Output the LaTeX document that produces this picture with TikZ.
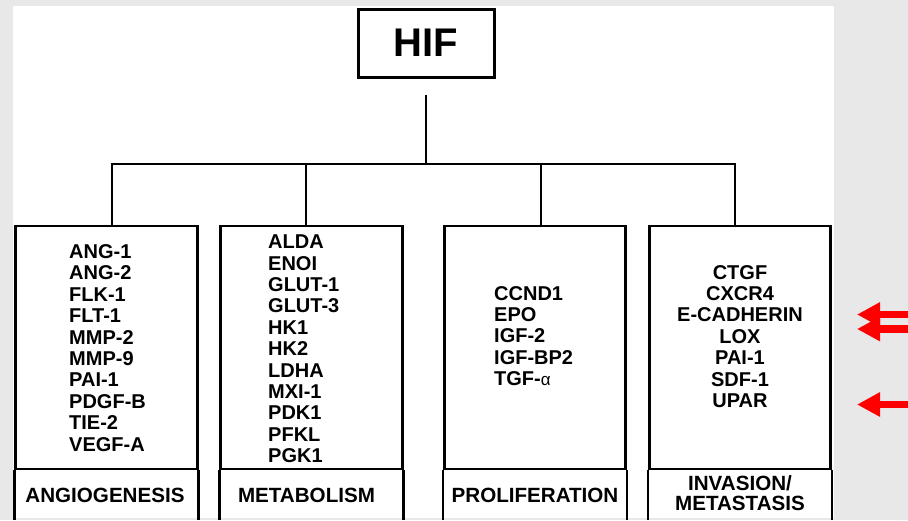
\documentclass[tikz,border=0pt]{standalone}
\usepackage{fontspec}
\setmainfont{Liberation Sans}
\newfontfamily\greekfont{Liberation Sans}
\usetikzlibrary{arrows.meta}
\definecolor{bggray}{HTML}{E8E8E8}
\definecolor{arrowred}{HTML}{FF0000}
\begin{document}
\begin{tikzpicture}[x=1pt,y=-1pt,
  catbox/.style={draw, line width=2.6pt, minimum width=181.5pt, minimum height=243pt, inner sep=0pt},
  sideline/.style={line width=2.6pt},
  conn/.style={line width=2.2pt, line join=miter},
  genes/.style={inner sep=0pt, align=left, anchor=west, font=\fontsize{20}{21.4}\selectfont\bfseries},
  genesc/.style={inner sep=0pt, align=center, font=\fontsize{20}{21.4}\selectfont\bfseries},
  catlabel/.style={inner sep=0pt, align=center, font=\fontsize{20.6}{20.5}\selectfont\bfseries},
  redarrow/.style={draw=arrowred, line width=7.5pt, -{Triangle[length=23pt,width=23pt]}}]
\useasboundingbox (0,0) rectangle (908,520);
\fill[bggray] (0,0) rectangle (908,520);
\fill[white] (13,6) rectangle (834,518);

% HIF
\node[draw, line width=3pt, minimum width=136pt, minimum height=68pt, inner sep=0pt,
      font=\fontsize{40}{44}\selectfont\bfseries] (hif) at (426,43) {HIF};

% category boxes
\node[catbox] (a1) at (106.5,347.5) {};
\node[catbox] (a2) at (311.5,347.5) {};
\node[catbox] (a3) at (535,347.5) {};
\node[catbox] (a4) at (740,347.5) {};

\coordinate (bottom) at (0,520);
\foreach \b in {a1,a2,a3,a4}{
  \draw[sideline] (\b.south west) -- (\b.south west |- bottom);
  \draw[sideline] (\b.south east) -- (\b.south east |- bottom);
}

% connectors
\coordinate (hs) at ([yshift=-16pt]hif.south);
\coordinate (bus) at (426,164);
\coordinate (d1) at (112,164);
\coordinate (d2) at (306,164);
\coordinate (d3) at (541,164);
\coordinate (d4) at (735,164);
\draw[conn] (hs) -- (bus);
\draw[conn] (d1 |- a1.north) -- (d1) -- (d4) -- (d4 |- a4.north);
\draw[conn] (d2) -- (d2 |- a2.north);
\draw[conn] (d3) -- (d3 |- a3.north);

% gene lists
\node[genes] (g1) at (69,348) {ANG-1\\ANG-2\\FLK-1\\FLT-1\\MMP-2\\MMP-9\\PAI-1\\PDGF-B\\TIE-2\\VEGF-A};
\node[genes] (g2) at (268,349) {ALDA\\ENOI\\GLUT-1\\GLUT-3\\HK1\\HK2\\LDHA\\MXI-1\\PDK1\\PFKL\\PGK1};
\node[genes] (g3) at (494,336) {CCND1\\EPO\\IGF-2\\IGF-BP2\\TGF-{\greekfont\mdseries\fontsize{17}{20}\selectfont α}};
\node[genesc] (g4) at (740,336.5) {CTGF\\CXCR4\\E-CADHERIN\\LOX\\PAI-1\\SDF-1\\UPAR};

% category labels
\node[catlabel] (l1) at (105,495) {ANGIOGENESIS};
\node[catlabel] (l2) at (306.5,495) {METABOLISM};
\node[catlabel] (l3) at (535,495) {PROLIFERATION};
\node[catlabel] (l4) at (740,493) {INVASION/\\METASTASIS};

% red arrows
\coordinate (r1s) at (908,314.5);
\coordinate (r1e) at (857,314.5);
\coordinate (r2s) at (908,329);
\coordinate (r2e) at (857,329);
\coordinate (r3s) at (908,404.5);
\coordinate (r3e) at (857,404.5);
\draw[redarrow] (r1s) -- (r1e);
\draw[redarrow] (r2s) -- (r2e);
\draw[redarrow] (r3s) -- (r3e);
\end{tikzpicture}
\end{document}
